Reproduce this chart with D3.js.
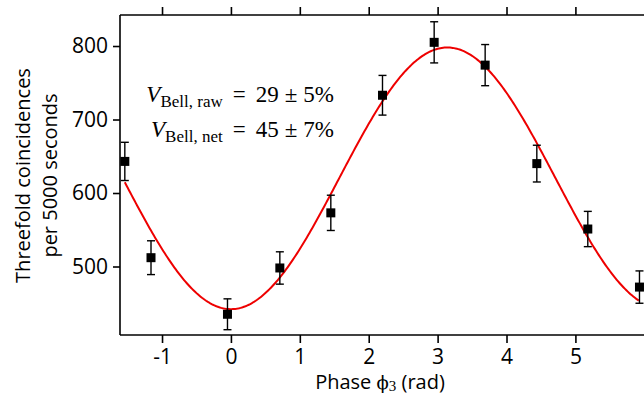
<!DOCTYPE html>
<html>
<head>
<meta charset="utf-8">
<script src="https://cdn.jsdelivr.net/npm/d3@7"></script>
<style>
  body { margin: 0; background: #fff; }
  .axis path, .axis line { stroke: #000; stroke-width: 1.6px; }
  .axis text { font-family: "Open Sans", sans-serif; font-size: 21px; fill: #000; }
</style>
</head>
<body>
<script>
// measured points (phase in rad, counts per 5000 s, error)
var phase  = [-1.54, -1.16, -0.05, 0.71, 1.45, 2.20, 2.95, 3.69, 4.44, 5.18, 5.93];
var counts = [643, 512, 435, 498, 573, 733, 805, 774, 640, 551, 472];
var errs   = [26, 23, 21, 22, 24, 27, 28, 28, 25, 24, 22];
var xTicks = [-1, 0, 1, 2, 3, 4, 5];
var yTicks = [500, 600, 700, 800];
// fit parameters: N = offset - amp * cos(phi - phi0)
var fitOffset = 620, fitAmp = 178, fitPhi0 = 0;

var width = 644, height = 400;
var svg = d3.select("body").append("svg")
    .attr("width", width)
    .attr("height", height);

var x = d3.scaleLinear().domain([-1.61, 6.0]).range([120, 644.3]);
var y = d3.scaleLinear().domain([406.8, 842.2]).range([335, 15]);

svg.append("g").attr("class", "axis")
    .attr("transform", "translate(0,335)")
    .call(d3.axisBottom(x).tickValues(xTicks).tickSize(8).tickPadding(6).tickFormat(function(d){ return String(d); }))
    .call(function(g){ g.select(".domain").attr("d", "M120,0H644"); });

svg.append("g").attr("class", "axis")
    .attr("transform", "translate(0,15)")
    .call(d3.axisTop(x).tickValues(xTicks).tickSize(8).tickFormat(""))
    .call(function(g){ g.select(".domain").attr("d", "M120,0H644"); });

svg.append("g").attr("class", "axis")
    .attr("transform", "translate(120,0)")
    .call(d3.axisLeft(y).tickValues(yTicks).tickSize(7).tickPadding(5))
    .call(function(g){ g.select(".domain").attr("d", "M0,15V335"); });

// fit curve
var fitPts = d3.range(phase[0], phase[phase.length-1] + 0.001, 0.02).map(function(p){
  return [p, fitOffset - fitAmp * Math.cos(p - fitPhi0)];
});
svg.append("path")
    .datum(fitPts)
    .attr("fill", "none")
    .attr("stroke", "#ee0000")
    .attr("stroke-width", 2)
    .attr("d", d3.line().x(function(d){ return x(d[0]); }).y(function(d){ return y(d[1]); }));

// error bars
var pts = phase.map(function(p, i){ return {p: p, c: counts[i], e: errs[i]}; });
var eb = svg.append("g").attr("stroke", "#000").attr("stroke-width", 1.4);
eb.selectAll(".v").data(pts).enter().append("line")
    .attr("x1", function(d){ return x(d.p); }).attr("x2", function(d){ return x(d.p); })
    .attr("y1", function(d){ return y(d.c - d.e); }).attr("y2", function(d){ return y(d.c + d.e); });
[-1, 1].forEach(function(s){
  eb.selectAll(".cap" + s).data(pts).enter().append("line")
    .attr("x1", function(d){ return x(d.p) - 4; }).attr("x2", function(d){ return x(d.p) + 4; })
    .attr("y1", function(d){ return y(d.c + s * d.e); }).attr("y2", function(d){ return y(d.c + s * d.e); });
});

svg.selectAll(".pt").data(pts).enter().append("rect")
    .attr("x", function(d){ return x(d.p) - 4.5; })
    .attr("y", function(d){ return y(d.c) - 4.5; })
    .attr("width", 9).attr("height", 9)
    .attr("fill", "#000");

// axis titles
var yl = svg.append("text")
    .attr("transform", "translate(0,175.5) rotate(-90)")
    .attr("text-anchor", "middle")
    .style("font-family", "Open Sans, sans-serif")
    .style("font-size", "20px");
yl.append("tspan").attr("x", 0).attr("y", 30).text("Threefold coincidences");
yl.append("tspan").attr("x", 0).attr("y", 57).text("per 5000 seconds");

var xl = svg.append("text")
    .attr("x", 380).attr("y", 389)
    .attr("text-anchor", "middle")
    .style("font-family", "Open Sans, sans-serif")
    .style("font-size", "20px");
xl.append("tspan").text("Phase ");
xl.append("tspan").style("font-family", "DejaVu Serif, serif").style("font-size", "18px").text("\u03D5");
xl.append("tspan").attr("dy", 2).style("font-family", "Liberation Serif, serif").style("font-size", "15px").text("3");
xl.append("tspan").attr("dy", -2).text(" (rad)");

// visibility annotations
var ann = [["raw", "29", "5%"], ["net", "45", "7%"]];
ann.forEach(function(a, i){
  var t = svg.append("text")
      .attr("x", 334).attr("y", 102 + i * 35)
      .attr("text-anchor", "end")
      .style("font-family", "Liberation Serif, serif")
      .style("font-size", "23px");
  t.append("tspan").style("font-style", "italic").text("V");
  t.append("tspan").attr("dy", 5).style("font-size", "17px").text("Bell, " + a[0]);
  t.append("tspan").attr("dy", -5).attr("dx", 10).text("=");
  t.append("tspan").attr("dx", 10).text(a[1]);
  t.append("tspan").attr("dx", 6).text("\u00B1");
  t.append("tspan").attr("dx", 6).text(a[2]);
});
</script>
</body>
</html>
